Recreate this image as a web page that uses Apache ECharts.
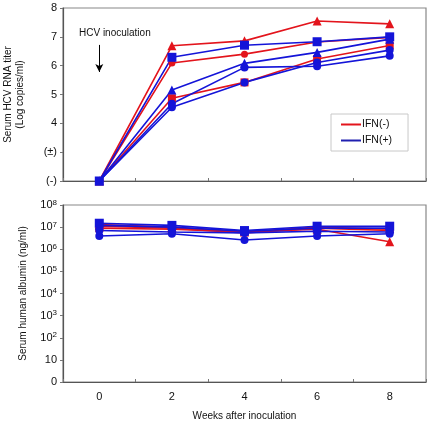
<!DOCTYPE html>
<html><head><meta charset="utf-8">
<script src="https://cdn.jsdelivr.net/npm/echarts@6/dist/echarts.min.js"></script>
<style>html,body{margin:0;padding:0;background:#fff}#c{width:430px;height:422px}</style>
</head><body><div id="c"></div>
<script>
const weeks = ['0','2','4','6','8'];
// HCV RNA titer (log copies/ml); 2 = (-), 3 = (±)
const rnaRedTri  = [2, 6.69, 6.86, 7.55, 7.45];
const rnaRedCirc = [2, 6.09, 6.40, 6.82, 6.98];
const rnaRedSq   = [2, 4.87, 5.42, 6.23, 6.70];
const rnaBlueSq  = [2, 6.29, 6.71, 6.83, 7.00];
const rnaBlueTri = [2, 5.16, 6.08, 6.46, 6.92];
const rnaBlueC1  = [2, 4.68, 5.94, 5.98, 6.34];
const rnaBlueC2  = [2, 4.56, 5.42, 6.11, 6.54];
// Serum human albumin (ng/ml)
const albRedTri  = [1.3e7, 1.0e7, 6.0e6, 8.0e6, 2.2e6];
const albRedCirc = [1.1e7, 9.0e6, 5.5e6, 9.0e6, 7.0e6];
const albRedSq   = [9.0e6, 8.0e6, 6.0e6, 1.0e7, 8.0e6];
const albBlueSq  = [1.5e7, 1.2e7, 7.0e6, 1.1e7, 1.1e7];
const albBlueTri = [1.2e7, 1.0e7, 6.5e6, 9.0e6, 9.0e6];
const albBlueC1  = [7.0e6, 6.0e6, 5.5e6, 6.5e6, 6.0e6];
const albBlueC2  = [4.0e6, 5.0e6, 2.6e6, 4.0e6, 5.0e6];
const rnaTickLabels = {2:'(-)', 3:'(±)'};
const legendNames = ['IFN(-)','IFN(+)'];

const RED = '#e3141c', BLUE = '#1414d8';
const FONT = 'Liberation Sans, Arial, sans-serif';

function mk(name, color, symbol, data, xi, yi, size) {
  return {type:'line', name, xAxisIndex:xi, yAxisIndex:yi, data,
    symbol, symbolSize:size, showSymbol:true,
    lineStyle:{color, width:1.6}, itemStyle:{color}, emphasis:{disabled:true}, animation:false, z:2};
}
const defs = [
  ['IFN(-)', RED, 'triangle', rnaRedTri, albRedTri, 9],
  ['IFN(-)', RED, 'circle', rnaRedCirc, albRedCirc, 7],
  ['IFN(-)', RED, 'rect', rnaRedSq, albRedSq, 8],
  ['IFN(+)', BLUE, 'circle', rnaBlueC2, albBlueC2, 8],
  ['IFN(+)', BLUE, 'circle', rnaBlueC1, albBlueC1, 8],
  ['IFN(+)', BLUE, 'triangle', rnaBlueTri, albBlueTri, 9],
  ['IFN(+)', BLUE, 'rect', rnaBlueSq, albBlueSq, 9],
];
const series = [];
defs.forEach(d => { series.push(mk(d[0], d[1], d[2], d[3], 0, 0, d[5])); });
defs.forEach(d => { series.push(mk(d[0], d[1], d[2], d[4], 1, 1, d[5])); });
// inoculation arrow
series[0].markLine = {silent:true, symbol:['none','arrow'], symbolSize:[6,8], label:{show:false},
  lineStyle:{color:'#000', width:1, type:'solid'},
  data:[[{coord:['0',6.72]},{coord:['0',5.78]}]]};

const axisCommon = {
  axisLine:{show:true, lineStyle:{color:'#555', width:1.2}},
  splitLine:{show:false},
};
const option = {
  backgroundColor:'#fff',
  animation:false,
  textStyle:{fontFamily:FONT},
  grid:[
    {left:63, top:8, width:363, height:173, show:true, borderColor:'#888', borderWidth:1.2,
      containLabel:false, outerBoundsMode:'none'},
    {left:63, top:205, width:363, height:177, show:true, borderColor:'#888', borderWidth:1.2,
      containLabel:false, outerBoundsMode:'none'}
  ],
  legend:{
    data:[{name:legendNames[0], itemStyle:{color:RED}},{name:legendNames[1], itemStyle:{color:'#2020b0'}}],
    icon:'rect', itemWidth:20, itemHeight:2, itemGap:5,
    orient:'vertical', left:331, top:114, width:79,
    padding:[5,16,5,10], borderColor:'#c8c8c8', borderWidth:1, backgroundColor:'#fff',
    textStyle:{fontFamily:FONT, fontSize:10.5, color:'#111', padding:[0,0,0,-4]},
    selectedMode:false
  },
  xAxis:[
    Object.assign({type:'category', gridIndex:0, data:weeks, boundaryGap:true,
      axisTick:{show:true, inside:true, length:3, lineStyle:{color:'#777'}},
      axisLabel:{show:false}}, axisCommon),
    Object.assign({type:'category', gridIndex:1, data:weeks, boundaryGap:true,
      axisTick:{show:true, inside:true, length:3, lineStyle:{color:'#777'}},
      axisLabel:{show:true, fontSize:11, color:'#111', margin:9, fontFamily:FONT},
      name:'Weeks after inoculation', nameLocation:'middle', nameGap:29,
      nameTextStyle:{fontSize:10, color:'#111', fontFamily:FONT}}, axisCommon)
  ],
  yAxis:[
    Object.assign({type:'value', gridIndex:0, min:2, max:8, interval:1,
      axisTick:{show:true, length:3, lineStyle:{color:'#777'}},
      axisLabel:{fontSize:11, color:'#111', margin:6, fontFamily:FONT,
        formatter: v => rnaTickLabels[v] !== undefined ? rnaTickLabels[v] : String(v)},
      name:'Serum HCV RNA titer\n(Log copies/ml)', nameLocation:'middle', nameGap:37,
      nameTextStyle:{fontSize:10, color:'#111', lineHeight:12, fontFamily:FONT}}, axisCommon),
    Object.assign({type:'log', gridIndex:1, min:1, max:1e8, logBase:10, interval:1,
      axisTick:{show:true, length:3, lineStyle:{color:'#777'}},
      axisLabel:{fontSize:11, color:'#111', margin:6, fontFamily:FONT,
        formatter: v => { const e = Math.round(Math.log10(v)); if (e===0) return '0'; if (e===1) return '10'; return '10{s|'+e+'}'; },
        rich:{s:{fontSize:8, verticalAlign:'top', padding:[0,0,5,0], fontFamily:FONT, color:'#111'}}},
      name:'Serum human albumin (ng/ml)', nameLocation:'middle', nameGap:35,
      nameTextStyle:{fontSize:10, color:'#111', fontFamily:FONT}}, axisCommon)
  ],
  graphic:[
    {type:'text', left:79, top:28, style:{text:'HCV inoculation', font:'10px '+FONT, fill:'#111'}}
  ],
  series
};
const chart = echarts.init(document.getElementById('c'), null, {renderer:'canvas'});
chart.setOption(option);
</script></body></html>
